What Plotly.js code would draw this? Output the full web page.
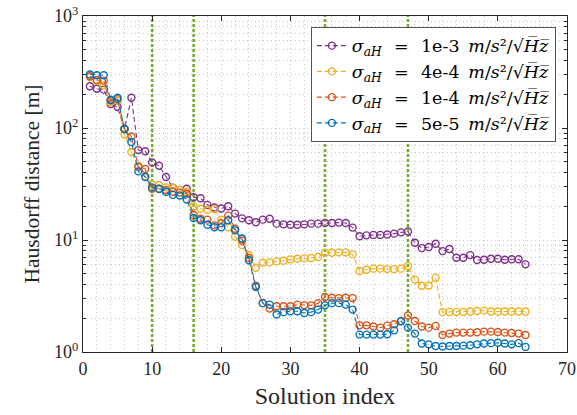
<!DOCTYPE html>
<html>
<head>
<meta charset="utf-8">
<script src="https://cdn.plot.ly/plotly-3.0.1.min.js"></script>
<style>
  html, body { margin: 0; padding: 0; background: #fff; }
  #chart { width: 577px; height: 415px; }
</style>
</head>
<body>
<div id="chart"></div>
<script>
// ---- data ----
const solutionIndex = Array.from({length: 64}, (_, i) => i + 1);

const noiseLabels = ['1e-3', '4e-4', '1e-4', '5e-5'];

const dist_1e3 = [236, 224, 220, 164, 154, 98, 186, 63.5, 62, 49.3,
  46, 36.5, 29.3, 28, 28.7, 24.1, 23.6, 20.6, 19.5, 19.1,
  20, 17.2, 15.6, 15, 14.4, 15.2, 15.5, 14.0, 13.8, 13.7,
  13.7, 13.8, 14.0, 14.0, 14.2, 14.2, 14.3, 14.2, 12.9, 10.8,
  11.0, 11.1, 11.1, 11.2, 11.4, 11.7, 11.9, 9.46, 8.47, 8.65,
  9.27, 7.96, 8.3, 6.95, 6.95, 7.33, 6.62, 6.67, 6.81, 6.81,
  6.67, 6.74, 6.74, 6.06];

const dist_4e4 = [285, 262, 240, 170, 175, 88, 61, 46, 37, 31.3,
  31, 29.5, 29.3, 28, 27, 19.9, 19, 18.6, 18.9, 15.2,
  13, 10.7, 9.0, 7.3, 5.66, 6.27, 6.31, 6.44, 6.53, 6.71,
  6.81, 6.85, 6.9, 7.04, 7.7, 7.7, 7.75, 7.75, 7.44, 5.28,
  5.43, 5.55, 5.55, 5.5, 5.5, 5.55, 5.85, 4.43, 3.91, 3.91,
  4.61, 2.27, 2.28, 2.28, 2.28, 2.3, 2.32, 2.34, 2.3, 2.3,
  2.3, 2.3, 2.3, 2.3];

const dist_1e4 = [290, 268, 265, 176, 181, 98, 84, 45, 43, 28.7,
  28.5, 28, 27, 26.5, 25.9, 16.7, 15.5, 15.2, 13.5, 14.1,
  16.5, 12.6, 9.9, 6.9, 3.9, 2.73, 2.44, 2.56, 2.56, 2.56,
  2.65, 2.61, 2.61, 2.73, 3.1, 3.05, 3.03, 3.05, 3.03, 1.73,
  1.73, 1.69, 1.65, 1.72, 1.77, 1.89, 2.12, 1.89, 1.69, 1.65,
  1.71, 1.42, 1.46, 1.49, 1.49, 1.49, 1.5, 1.52, 1.52, 1.51,
  1.49, 1.48, 1.46, 1.42];

const dist_5e5 = [300, 296, 296, 179, 186, 98, 75, 41, 36.5, 29.5,
  28.7, 27, 25.3, 25, 23, 15.7, 15, 13.7, 13, 13,
  15, 12.2, 10.3, 6.6, 3.8, 2.73, 2.65, 2.16, 2.27, 2.31,
  2.31, 2.23, 2.27, 2.39, 2.61, 2.73, 2.73, 2.65, 2.39, 1.43,
  1.43, 1.43, 1.43, 1.44, 1.56, 1.88, 1.65, 1.46, 1.19, 1.17,
  1.13, 1.12, 1.13, 1.13, 1.14, 1.15, 1.17, 1.19, 1.2, 1.21,
  1.19, 1.17, 1.2, 1.11];

const markedSolutions = [10, 16, 35, 47];

const xRange = [0, 70];
const yRange = [1, 1000];
const xTickVals = [0, 10, 20, 30, 40, 50, 60, 70];
const yTickVals = [1, 10, 100, 1000];
const yTickText = ['10<sup>0</sup>', '10<sup>1</sup>', '10<sup>2</sup>', '10<sup>3</sup>'];

// ---- styling ----
const seriesData = [dist_1e3, dist_4e4, dist_1e4, dist_5e5];
const seriesColors = ['#7E2F8E', '#EDB120', '#D95319', '#0072BD'];
const serif = '"Liberation Serif", "DejaVu Serif", serif';
const legendFont = '"DejaVu Serif", "Liberation Serif", serif';
const ink = '#262626';

function legendName(lbl) {
  return '<i>σ</i><sub><i>aH</i></sub>\u2002\u2009=\u2002\u2009' + lbl +
    '\u2002<i>m</i>/<i>s</i>²/√<i>H\u0305z\u0305</i>';
}

// vertical marker lines, built from markedSolutions and the y-axis range
const vx = [], vy = [];
markedSolutions.forEach(v => { vx.push(v, v, null); vy.push(yRange[0], yRange[1], null); });
const markerLines = {
  x: vx, y: vy, type: 'scatter', mode: 'lines', showlegend: false, hoverinfo: 'skip',
  line: { color: '#77AC30', width: 2.6, dash: '3px,2px' }
};

const traces = [markerLines].concat(seriesData.map((ys, k) => ({
  x: solutionIndex,
  y: ys,
  type: 'scatter',
  mode: 'lines+markers',
  name: legendName(noiseLabels[k]),
  line: { color: seriesColors[k], width: 1.1, dash: '5px,3px' },
  marker: { symbol: 'circle-open', size: 7, color: seriesColors[k], line: { width: 1.4, color: seriesColors[k] } }
})));

const gridCol = '#c8c8c8';
const gridDash = '1px,3px';

const layout = {
  width: 577, height: 415,
  margin: { l: 83, r: 10, t: 16, b: 63 },
  paper_bgcolor: '#fff', plot_bgcolor: '#fff',
  showlegend: true,
  font: { family: serif, size: 18, color: ink },
  xaxis: {
    range: xRange,
    tickvals: xTickVals,
    ticks: 'inside', ticklen: 5, tickwidth: 1, tickcolor: ink,
    showline: true, linecolor: ink, linewidth: 1, mirror: 'ticks',
    showgrid: true, gridcolor: gridCol, griddash: gridDash, gridwidth: 1,
    zeroline: false,
    tickfont: { family: serif, size: 18, color: ink },
    title: { text: 'Solution index', font: { family: serif, size: 24, color: ink }, standoff: 9 },
    minor: { dtick: 2, showgrid: true, gridcolor: gridCol, griddash: gridDash, gridwidth: 1 }
  },
  yaxis: {
    type: 'log',
    range: [Math.log10(yRange[0]), Math.log10(yRange[1])],
    tickvals: yTickVals, ticktext: yTickText,
    ticks: 'inside', ticklen: 5, tickwidth: 1, tickcolor: ink,
    showline: true, linecolor: ink, linewidth: 1, mirror: 'ticks',
    showgrid: true, gridcolor: gridCol, griddash: gridDash, gridwidth: 1,
    zeroline: false,
    tickfont: { family: serif, size: 18, color: ink },
    title: { text: 'Hausdorff distance [m]', font: { family: serif, size: 21.5, color: ink }, standoff: 8 },
    minor: { dtick: 'D1', ticks: 'inside', ticklen: 3, tickcolor: ink, showgrid: true, gridcolor: gridCol, griddash: gridDash, gridwidth: 1 }
  },
  legend: {
    x: 0.977, y: 0.968, xanchor: 'right', yanchor: 'top',
    bgcolor: '#fff', bordercolor: '#555', borderwidth: 1,
    font: { family: legendFont, size: 17.5, color: '#000' },
    tracegroupgap: 0, itemwidth: 30
  }
};

Plotly.newPlot('chart', traces, layout, { staticPlot: true, displayModeBar: false });
</script>
</body>
</html>
